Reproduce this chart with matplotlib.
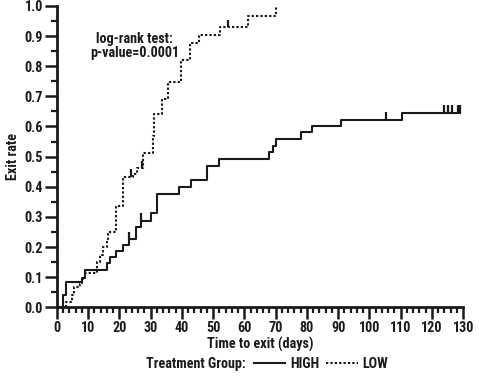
import matplotlib
matplotlib.use("Agg")
import matplotlib.pyplot as plt
from matplotlib.lines import Line2D
from matplotlib.ticker import MultipleLocator
from matplotlib import font_manager

# HIGH group (solid) step curve
high_t = [0, 2, 3, 8, 9, 16, 17, 19, 21, 23, 25.3, 26.8, 30, 32, 39, 43, 48, 52,
          68, 69, 70, 78, 81.7, 91, 110.5, 129.1]
high_v = [0, 0.041, 0.085, 0.096, 0.124, 0.146, 0.166, 0.188, 0.207, 0.226, 0.265,
          0.288, 0.312, 0.376, 0.399, 0.423, 0.469, 0.492, 0.514, 0.536, 0.558,
          0.582, 0.602, 0.622, 0.646, 0.646]
high_cens_t = [23, 27, 105.2, 123.7, 125.1, 126.5, 128.3, 129.1]
high_cens_v = [0.226, 0.288, 0.622, 0.646, 0.646, 0.646, 0.646, 0.646]

# LOW group (dotted) step curve
low_t = [0, 3, 4.7, 5.5, 7.4, 8, 9, 12.7, 13.7, 14.8, 15.9, 16.4, 18.9, 21, 24.3,
         25.5, 27.6, 30.8, 31.2, 33.7, 35.6, 39.6, 42.5, 45.5, 52.3, 61.2, 70.2]
low_v = [0, 0.017, 0.041, 0.066, 0.077, 0.094, 0.113, 0.151, 0.174, 0.2, 0.224,
         0.251, 0.337, 0.434, 0.443, 0.462, 0.512, 0.567, 0.642, 0.691, 0.746,
         0.819, 0.877, 0.902, 0.929, 0.965, 1.0]
low_cens_t = [23.8, 27.1, 54.6]
low_cens_v = [0.434, 0.462, 0.929]

x_ticks = list(range(0, 131, 10))
y_ticks = [0.0, 0.1, 0.2, 0.3, 0.4, 0.5, 0.6, 0.7, 0.8, 0.9, 1.0]

# pick a narrow/condensed bold sans if one is installed
fprop = None
names = {f.name for f in font_manager.fontManager.ttflist}
for cand in ['Liberation Sans Narrow', 'Roboto Condensed', 'Open Sans Condensed',
             'Noto Sans Condensed', 'DejaVu Sans Condensed']:
    if cand in names:
        fprop = dict(family=cand, stretch='normal')
        break
if fprop is None:
    for f in font_manager.fontManager.ttflist:
        if f.stretch in ('condensed', 'semi-condensed') and 'DejaVu Sans' == f.name \
                and f.weight in ('bold', 700):
            fprop = dict(family='DejaVu Sans', stretch='condensed')
            break
if fprop is None:
    fprop = dict(family='Liberation Sans', stretch='normal')
    FS = 9.3
else:
    FS = 10.2

FAMILY = [fprop['family'], 'DejaVu Sans']
plt.rcParams['font.family'] = FAMILY
plt.rcParams['font.stretch'] = fprop['stretch']
plt.rcParams['font.weight'] = 'bold'
C = '#1a1a1a'

fig = plt.figure(figsize=(4.79, 3.81), dpi=100)
ax = fig.add_axes([0.119, 0.1934, 0.848, 0.791])

lw = 1.5
DOT = (0, (1.1, 1.0))
ax.step(high_t, high_v, where='post', color=C, lw=lw)
ax.step(low_t, low_v, where='post', color=C, lw=lw, linestyle=DOT)
mark_h = 0.025
ax.vlines(high_cens_t, high_cens_v, [v + mark_h for v in high_cens_v], color=C, lw=1.6)
ax.vlines(low_cens_t, low_cens_v, [v + mark_h for v in low_cens_v], color=C, lw=1.6)

ax.set_xlim(0, 130)
ax.set_ylim(0, 1.0)
ax.set_xticks(x_ticks)
ax.set_yticks(y_ticks)
ax.set_yticklabels([f"{v:.1f}" for v in y_ticks])
ax.xaxis.set_minor_locator(MultipleLocator(2))
ax.yaxis.set_minor_locator(MultipleLocator(0.05))

for s in ['top', 'right']:
    ax.spines[s].set_visible(False)
for s in ['left', 'bottom']:
    ax.spines[s].set_linewidth(2.0)
    ax.spines[s].set_color(C)

ax.tick_params(which='major', length=8.5, width=1.8, color=C, pad=1.5,
               labelsize=FS, labelcolor=C)
ax.tick_params(which='minor', length=4.2, width=1.6, color=C)
for lab in ax.get_xticklabels() + ax.get_yticklabels():
    lab.set_fontweight('bold')
    lab.set_fontstretch(fprop['stretch'])

tk = dict(fontsize=FS, fontweight='bold', color=C, fontstretch=fprop['stretch'])
ax.set_xlabel("Time to exit (days)", labelpad=1, **tk)
ax.set_ylabel("Exit rate", labelpad=3, **tk)

ax.text(24.9, 0.866, "log-rank test:\np-value=0.0001", ha='center', va='center',
        linespacing=1.0, **tk)

fig.text(146 / 479, 1 - 364 / 381, "Treatment Group:", ha='left', va='center', **tk)
handles = [Line2D([], [], color=C, lw=lw),
           Line2D([], [], color=C, lw=lw, linestyle=DOT)]
leg = fig.legend(handles, ["HIGH", "LOW"], ncol=2, loc='center left',
                 bbox_to_anchor=(254 / 479, 1 - 364 / 381), frameon=False,
                 handlelength=2.2, handletextpad=0.35, columnspacing=0.5,
                 borderpad=0, borderaxespad=0,
                 prop=font_manager.FontProperties(family=FAMILY, size=FS, weight='bold',
                                                  stretch=fprop['stretch']))
for t in leg.get_texts():
    t.set_color(C)

fig.savefig("out.png", dpi=100)
